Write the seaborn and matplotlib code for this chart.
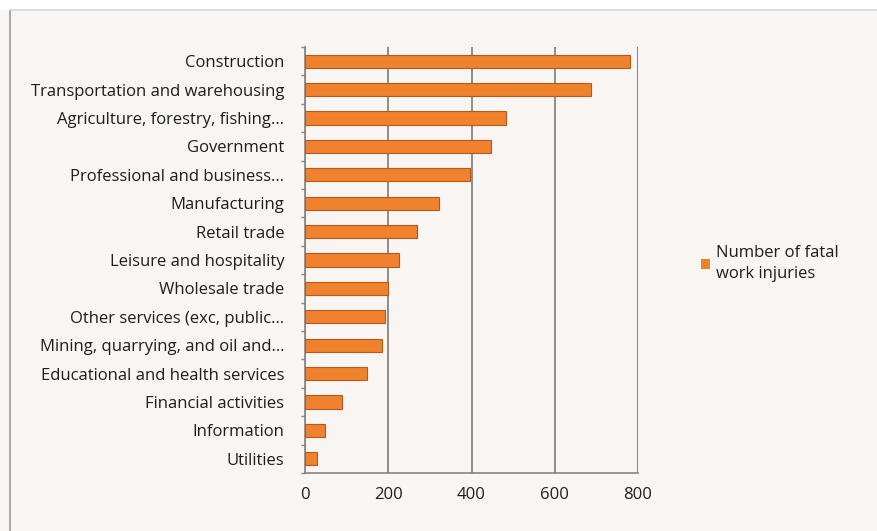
import matplotlib
matplotlib.use("Agg")
import matplotlib.pyplot as plt
import seaborn as sns
import pandas as pd
import numpy as np
from matplotlib.patches import Rectangle
from matplotlib.lines import Line2D

categories = [
    "Construction",
    "Transportation and warehousing",
    "Agriculture, forestry, fishing…",
    "Government",
    "Professional and business…",
    "Manufacturing",
    "Retail trade",
    "Leisure and hospitality",
    "Wholesale trade",
    "Other services (exc, public…",
    "Mining, quarrying, and oil and…",
    "Educational and health services",
    "Financial activities",
    "Information",
    "Utilities",
]
values = [781, 686, 484, 447, 397, 322, 270, 227, 200, 193, 186, 148, 89, 47, 28]
series_name = "Number of fatal\nwork injuries"
x_ticks = [0, 200, 400, 600, 800]

df = pd.DataFrame({"Industry": categories, "Fatalities": values})

sns.set_theme(style="white")
plt.rcParams["font.family"] = ["Open Sans", "DejaVu Sans"]

BG = "#f8f5f2"
ORANGE = "#f0822e"
EDGE = "#b8591c"
GRID = "#858585"
TXT = "#1e1e1e"
FS = 12

fig = plt.figure(figsize=(8.78, 5.31), dpi=100)
fig.patch.set_facecolor(BG)
# white strip at top and frame
fig.add_artist(Rectangle((0, 1 - 10 / 531), 1, 10 / 531, transform=fig.transFigure,
                         facecolor="white", edgecolor="none", zorder=0))
fig.add_artist(Line2D([10 / 878, 10 / 878], [0, 1 - 10 / 531], transform=fig.transFigure,
                      color="#9a9a9a", lw=1.2))
fig.add_artist(Line2D([10 / 878, 1], [1 - 10 / 531, 1 - 10 / 531], transform=fig.transFigure,
                      color="#d8d8d8", lw=1.2))

left = 305 / 878
right = 638 / 878
bottom = 1 - 473 / 531
top = 1 - 47 / 531
ax = fig.add_axes([left, bottom, right - left, top - bottom])
ax.set_facecolor(BG)

sns.barplot(data=df, x="Fatalities", y="Industry", orient="h", ax=ax,
            color=ORANGE, width=0.46, edgecolor=EDGE, linewidth=0.8,
            saturation=1, zorder=3)

ax.set_xlim(0, 800)
ax.set_ylim(14.5, -0.5)
ax.set_xticks(x_ticks)
ax.set_xticklabels([str(t) for t in x_ticks], fontsize=FS, color=TXT)
ax.set_xlabel("")
ax.set_ylabel("")
for lbl in ax.get_yticklabels():
    lbl.set_fontsize(FS)
    lbl.set_color(TXT)
ax.tick_params(axis="y", length=0, pad=15)
ax.set_yticks(np.arange(-0.5, 15, 1), minor=True)
ax.tick_params(axis="y", which="minor", length=3, color=GRID, width=1, direction="out", left=True)
ax.tick_params(axis="x", length=0, pad=10)
ax.xaxis.grid(True, color=GRID, lw=1.3, zorder=0)
ax.set_axisbelow(True)
for s in ["top", "right"]:
    ax.spines[s].set_visible(False)
ax.spines["left"].set_color(GRID)
ax.spines["bottom"].set_color(GRID)
ax.spines["left"].set_linewidth(1.2)
ax.spines["bottom"].set_linewidth(1.2)
ax.axvline(800, color=GRID, lw=1.3, zorder=0)

# legend
handle = Rectangle((0, 0), 1, 1, facecolor=ORANGE, edgecolor="none")
leg = fig.legend([handle], [series_name], loc="upper left",
                 bbox_to_anchor=(686 / 878, 1 - 230 / 531), frameon=False,
                 fontsize=FS, handlelength=0.55, handleheight=0.55,
                 handletextpad=0.35, labelspacing=0.2)
for t in leg.get_texts():
    t.set_color(TXT)
    t.set_linespacing(1.45)

fig.savefig("out.png", dpi=100, facecolor=fig.get_facecolor())
